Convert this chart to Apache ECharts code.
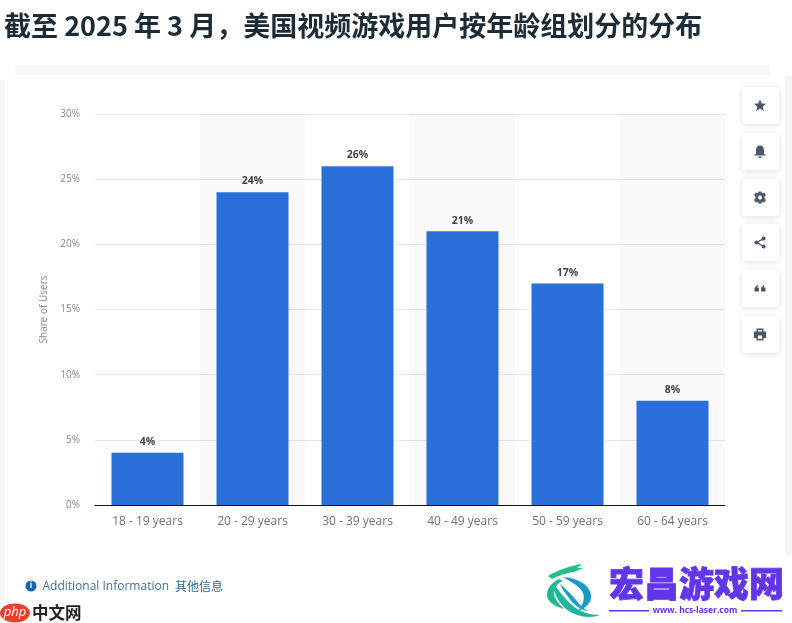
<!DOCTYPE html>
<html><head><meta charset="utf-8">
<style>html,body{margin:0;padding:0;background:#fff}#c{width:792px;height:623px}</style>
<script src="https://cdn.jsdelivr.net/npm/echarts@6/dist/echarts.min.js"></script></head>
<body><div id="c"></div>
<script>
const categories = ['18 - 19 years','20 - 29 years','30 - 39 years','40 - 49 years','50 - 59 years','60 - 64 years'];
const shares = [4,24,26,21,17,8];
const titleText = '截至 2025 年 3 月，美国视频游戏用户按年龄组划分的分布';
const axisName = 'Share of Users';
const font = '"Open Sans","Noto Sans","Noto Sans CJK SC",sans-serif';
const cjk = '"Noto Sans CJK SC",sans-serif';
const iconTops = [87,133,179,224,270,316];
const iconPaths = [
 'M0,-6 L1.8,-2 L6,-1.8 L2.8,1 L3.8,5.5 L0,3.1 L-3.8,5.5 L-2.8,1 L-6,-1.8 L-1.8,-2 Z',
 'M0,-6 C3,-6 4,-3.5 4,-1 L4,2 L6,4 L-6,4 L-4,2 L-4,-1 C-4,-3.5 -3,-6 0,-6 Z M-2,5 L2,5 L1,6.5 L-1,6.5 Z',
 'M-1.5,-6 L1.5,-6 L2,-4 L4,-5 L6,-2.5 L4.5,-1 L4.5,1 L6,2.5 L4,5 L2,4 L1.5,6 L-1.5,6 L-2,4 L-4,5 L-6,2.5 L-4.5,1 L-4.5,-1 L-6,-2.5 L-4,-5 L-2,-4 Z M2.2,0 L1.1,-1.9 L-1.1,-1.9 L-2.2,0 L-1.1,1.9 L1.1,1.9 Z',
 'M5.6,-4 A2,2 0 1 1 1.6,-4 A2,2 0 1 1 5.6,-4 Z M-1.6,0 A2,2 0 1 1 -5.6,0 A2,2 0 1 1 -1.6,0 Z M5.6,4 A2,2 0 1 1 1.6,4 A2,2 0 1 1 5.6,4 Z M-3.4,-0.6 L3.2,-4.4 L3.8,-3.4 L-2.8,0.4 Z M-2.8,-0.4 L3.8,3.4 L3.2,4.4 L-3.4,0.6 Z',
 'M-5.5,3 L-5.5,-0.5 L-3,-3.5 L-2,-3 L-3,-1 L-1,-1 L-1,3 Z M1,3 L1,-0.5 L3.5,-3.5 L4.5,-3 L3.5,-1 L5.5,-1 L5.5,3 Z',
 'M-3.5,-6 L3.5,-6 L3.5,-3 L6,-3 L6,3.5 L3.5,3.5 L3.5,6 L-3.5,6 L-3.5,3.5 L-6,3.5 L-6,-3 L-3.5,-3 Z M-2,1 L-2,4.5 L2,4.5 L2,1 Z M-2,-4.5 L-2,-3 L2,-3 L2,-4.5 Z'
];
function pathEl(name, d, props){
  echarts.graphic.registerShape(name, echarts.graphic.extendPath(d, {}));
  return Object.assign({type:name}, props);
}
const toolbar = [];
iconTops.forEach((t,i)=>{
  toolbar.push({type:'rect',shape:{x:742,y:t,width:37,height:37,r:3},
    style:{fill:'#fff',shadowBlur:6,shadowColor:'rgba(0,0,0,0.13)',shadowOffsetY:1},z:5});
  toolbar.push(pathEl('tbIcon'+i, iconPaths[i], {x:760,y:t+18.5,style:{fill:'#4a5568'},z:6}));
});
const chart = echarts.init(document.getElementById('c'),null,{renderer:'canvas'});
chart.setOption({
  animation:false,
  backgroundColor:'#fff',
  textStyle:{fontFamily:font},
  title:{text:titleText,left:-1,top:7,textStyle:{fontFamily:cjk,fontSize:27,fontWeight:'bold',color:'#1c2b36'}},
  grid:{left:95,right:67,top:114,bottom:118},
  xAxis:{type:'category',data:categories,
    axisLine:{lineStyle:{color:'#111',width:1}},axisTick:{show:false},
    axisLabel:{color:'#707070',fontSize:12,margin:11,fontFamily:font},
    splitLine:{show:false},
    splitArea:{show:true,areaStyle:{color:['rgba(0,0,0,0)','rgba(0,0,0,0.022)']}}},
  yAxis:{type:'value',min:0,max:30,interval:5,
    name:axisName,nameLocation:'middle',nameGap:44,nameRotate:90,
    nameTextStyle:{color:'#888',fontSize:10,fontFamily:font},
    axisLine:{show:false},axisTick:{show:false},
    axisLabel:{color:'#888',fontSize:10,margin:15,formatter:'{value}%'},
    splitLine:{lineStyle:{color:'#e8e8e8',width:1}}},
  series:[{type:'bar',data:shares,barWidth:72,
    itemStyle:{color:'#2a70d8'},
    label:{show:true,position:'top',distance:5.5,color:'#444',fontSize:10.5,fontWeight:'bold',formatter:'{c}%'}}],
  graphic:[
    {type:'rect',shape:{x:15,y:65,width:755,height:10},style:{fill:'#f8f8f8'},z:-1},
    {type:'rect',shape:{x:0,y:80,width:5,height:520},style:{fill:'#f7f7f7'},z:-1},
    {type:'rect',shape:{x:785,y:75,width:7,height:480},style:{fill:'#f5f5f5'},z:-1},
    ...toolbar,
    {type:'circle',shape:{cx:31,cy:586,r:5.5},style:{fill:'#1565a8'},z:6},
    {type:'text',x:31,y:586,style:{text:'i',fill:'#fff',font:'bold 8px '+font,textAlign:'center',textVerticalAlign:'middle'},z:7},
    {type:'text',x:42.5,y:587,style:{text:'Additional Information',fill:'#3f6f9f',font:'12px '+font,textVerticalAlign:'middle'},z:6},
    {type:'text',x:175,y:586,style:{text:'其他信息',fill:'#2f6a9f',font:'12px '+cjk,textVerticalAlign:'middle'},z:6},
    {type:'ellipse',shape:{cx:15,cy:613,rx:15,ry:9.5},style:{fill:'#e8412a'},z:6},
    {type:'text',x:15,y:612,style:{text:'php',fill:'#fff',font:'italic 13px '+font,textAlign:'center',textVerticalAlign:'middle'},z:7},
    {type:'text',x:32,y:613,style:{text:'中文网',fill:'#222',font:'bold 16.5px '+cjk,textVerticalAlign:'middle'},z:7},
    {type:'rect',shape:{x:538,y:558,width:254,height:65},style:{fill:'#fff'},z:6},
    pathEl('logoAntler','M548,576 C558,570 570,566 582,564 L577,568 L583,568 L574,572 C566,573 558,576 552,579 Z',{style:{fill:'#1fc08e'},z:7}),
    pathEl('logoLeft','M559,579 C549,584 545,592 548,599 C551,604 557,607 564,609 C558,603 553,597 554,591 C555,586 558,583 563,581 Z',{style:{fill:'#1fb88e'},z:7}),
    pathEl('logoRight','M563,577 C575,578 589,583 591,595 C592,602 586,608 578,611 C583,605 585,599 583,593 C580,586 571,582 563,577 Z',{style:{fill:'#1898c8'},z:7}),
    pathEl('logoSweep','M553,583 C558,589 563,597 572,605 C580,612 590,615 600,615 C590,619 576,617 566,609 C558,602 553,592 553,583 Z',{style:{fill:'#1fb5a0'},z:7}),
    pathEl('logoSweep2','M560,584 C566,589 571,594 576,600 C580,605 583,608 588,611 C580,610 573,604 569,598 C566,594 562,589 560,584 Z',{style:{fill:'#1a9fc4'},z:7}),
    {type:'text',x:609,y:584,style:{text:'宏昌游戏网',fill:'#6236e8',stroke:'#6236e8',lineWidth:0.8,font:'900 35px '+cjk,textVerticalAlign:'middle'},z:7},
    {type:'rect',shape:{x:609,y:610,width:40,height:1.5},style:{fill:'#6236e8'},z:7},
    {type:'rect',shape:{x:741,y:610,width:41,height:1.5},style:{fill:'#6236e8'},z:7},
    {type:'text',x:695,y:611,style:{text:'www. hcs-laser.com',fill:'#6236e8',font:'bold 8.5px '+font,textAlign:'center',textVerticalAlign:'middle'},z:7}
  ]
});
</script></body></html>
